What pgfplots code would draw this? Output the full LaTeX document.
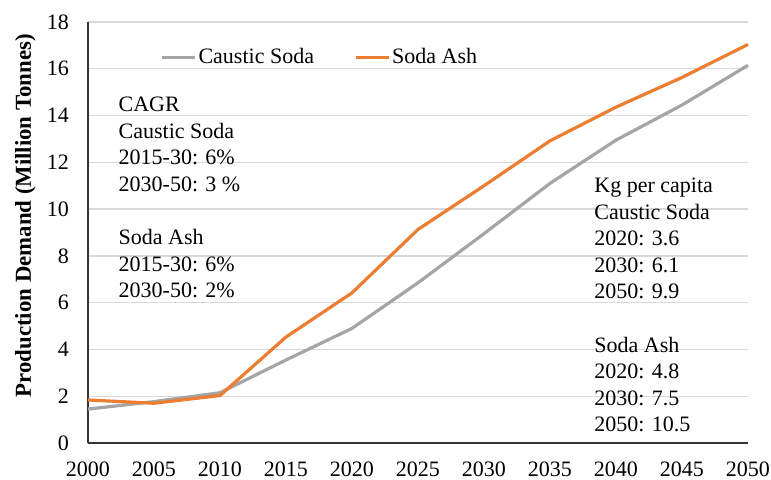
\documentclass[border=0pt]{standalone}
\usepackage{fontspec}
\setmainfont{Liberation Serif}
\usepackage{pgfplots}
\pgfplotsset{compat=1.18}
\definecolor{ashorange}{RGB}{237,125,49}
\definecolor{causticgray}{RGB}{165,165,165}
\definecolor{gridgray}{RGB}{217,217,217}
\begin{document}
\begin{tikzpicture}[font=\fontsize{11}{13}\selectfont]
\begin{axis}[
  at={(0,0)}, anchor=south west,
  scale only axis,
  width=330pt, height=210.5pt,
  xmin=2000, xmax=2050, ymin=0, ymax=18,
  xtick={2000,2005,...,2050},
  ytick={0,2,...,18},
  /pgf/number format/assume math mode=true,
  /pgf/number format/1000 sep={},
  axis x line*=bottom, axis y line*=left,
  axis line style={black!80, line width=0.6pt, -},
  major tick length=0pt,
  ymajorgrids, grid style={gridgray, line width=0.7pt},
  yticklabel style={xshift=-6pt},
  xticklabel style={yshift=-6pt},
  ylabel={\textbf{Production Demand (Million Tonnes)}},
  ylabel style={at={(axis description cs:-0.095,0.54)}, anchor=center, font=\fontsize{11.4}{13}\selectfont},
  clip=false,
  legend columns=2,
  legend style={at={(rel axis cs:0.109,0.915)}, anchor=west, draw=none, fill=none,
    inner sep=0pt, nodes={inner sep=1pt},
    /tikz/every even column/.append style={column sep=19pt}},
  legend image code/.code={\draw[#1] (0pt,0pt) -- (16.5pt,0pt);},
]
\addplot[causticgray, line width=1.6pt] coordinates {
 (2000,1.45) (2005,1.77) (2010,2.15) (2015,3.55) (2020,4.9) (2025,6.85)
 (2030,8.95) (2035,11.1) (2040,12.95) (2045,14.45) (2050,16.15)};
\addlegendentry{Caustic Soda}
\addplot[ashorange, line width=1.6pt] coordinates {
 (2000,1.84) (2005,1.7) (2010,2.03) (2015,4.53) (2020,6.42) (2025,9.13)
 (2030,11.0) (2035,12.92) (2040,14.36) (2045,15.63) (2050,17.04)};
\addlegendentry{Soda Ash}
\begin{scope}[every node/.style={anchor=base west, inner sep=0pt}]
\node at (rel axis cs:0.0459,0.787) {CAGR};
\node at (rel axis cs:0.0459,0.7238) {Caustic Soda};
\node at (rel axis cs:0.0459,0.6606) {2015-30: 6\%};
\node at (rel axis cs:0.0459,0.5974) {2030-50: 3 \%};
\node at (rel axis cs:0.0459,0.4710) {Soda Ash};
\node at (rel axis cs:0.0459,0.4078) {2015-30: 6\%};
\node at (rel axis cs:0.0459,0.3447) {2030-50: 2\%};
\node at (rel axis cs:0.7667,0.5950) {Kg per capita};
\node at (rel axis cs:0.7667,0.5318) {Caustic Soda};
\node at (rel axis cs:0.7667,0.4686) {2020: 3.6};
\node at (rel axis cs:0.7667,0.4055) {2030: 6.1};
\node at (rel axis cs:0.7667,0.3423) {2050: 9.9};
\node at (rel axis cs:0.7667,0.2159) {Soda Ash};
\node at (rel axis cs:0.7667,0.1527) {2020: 4.8};
\node at (rel axis cs:0.7667,0.0895) {2030: 7.5};
\node at (rel axis cs:0.7667,0.0264) {2050: 10.5};
\end{scope}
\end{axis}
\pgfresetboundingbox
\useasboundingbox (-44pt,-18pt) rectangle (341.5pt,221.5pt);
\end{tikzpicture}
\end{document}
